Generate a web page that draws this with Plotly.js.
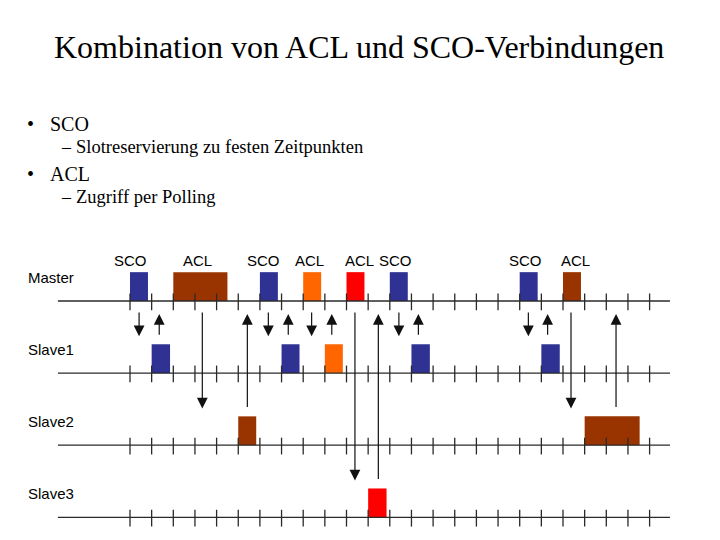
<!DOCTYPE html>
<html>
<head>
<meta charset="utf-8">
<script src="https://cdn.plot.ly/plotly-3.0.1.min.js"></script>
<style>html,body{margin:0;padding:0;background:#fff}#chart{width:720px;height:540px}</style>
</head>
<body>
<div id="chart"></div>
<script>
// ---- data ----
const titleText = 'Kombination von ACL und SCO-Verbindungen';
const bulletLevel = [0, 1, 0, 1];
const bulletText = ['SCO', 'Slotreservierung zu festen Zeitpunkten', 'ACL', 'Zugriff per Polling'];

const rowNames = ['Master', 'Slave1', 'Slave2', 'Slave3'];
const rowIndex = [0, 1, 2, 3];
const tickSlots = [0,1,2,3,4,5,6,7,8,9,10,11,12,13,14,15,16,17,18,19,20,21,22,23,24];
const timelineStart = -3.33;
const timelineEnd = 24.94;

// slots occupied by packets
const blockRow   = [0, 0, 0, 0, 0, 0, 0, 0,   1, 1, 1, 1, 1,   2, 2,   3];
const blockStart = [0, 2, 6, 8, 10, 12, 18, 20,  1, 7, 9, 13, 19,  5, 21,  11];
const blockLen   = [0.83, 2.5, 0.83, 0.83, 0.83, 0.83, 0.83, 0.83,  0.85, 0.83, 0.83, 0.85, 0.85,  0.83, 2.54,  0.85];
const blockLink  = ['SCO','ACL2','SCO','ACL1','ACL3','SCO','SCO','ACL2',
                    'SCO','SCO','ACL1','SCO','SCO',
                    'ACL2','ACL2',
                    'ACL3'];

// labels above master
const labelSlot = [0.0, 3.12, 6.17, 8.31, 10.58, 12.24, 18.29, 20.58];
const labelText = ['SCO', 'ACL', 'SCO', 'ACL', 'ACL', 'SCO', 'SCO', 'ACL'];

// polling arrows: x position (slots), from row, to row
const arrowSlot = [0.42, 1.35, 6.39, 7.31, 8.39, 9.32, 12.42, 13.32, 18.40, 19.29,
                   3.34, 5.42, 10.39, 11.47, 20.37, 22.45];
const arrowFrom = [0, 1, 0, 1, 0, 1, 0, 1, 0, 1,
                   0, 2, 0, 3, 0, 2];
const arrowTo   = [1, 0, 1, 0, 1, 0, 1, 0, 1, 0,
                   2, 0, 3, 0, 2, 0];

// ---- styles ----
const linkColor = {SCO: '#2f3193', ACL1: '#ff6600', ACL2: '#993300', ACL3: '#ff0000'};
const blockH = 0.4;
const lineColor = '#2a2a2a';

const traces = [];
// timelines
const lx = [], ly = [];
rowIndex.forEach(r => { lx.push(timelineStart, timelineEnd, null); ly.push(-r, -r, null); });
traces.push({type: 'scatter', mode: 'lines', x: lx, y: ly, line: {color: lineColor, width: 1.3}, hoverinfo: 'skip'});
// ticks
const tx = [], ty = [];
rowIndex.forEach(r => tickSlots.forEach(s => { tx.push(s); ty.push(-r - 0.012); }));
traces.push({type: 'scatter', mode: 'markers', x: tx, y: ty,
  marker: {symbol: 'line-ns', size: 12, color: lineColor, line: {color: lineColor, width: 1.3}}, hoverinfo: 'skip'});
// packets
traces.push({type: 'bar', x: blockStart.map((s, i) => s + blockLen[i] / 2), width: blockLen,
  base: blockRow.map(r => -r), y: blockRow.map(() => blockH),
  marker: {color: blockLink.map(k => linkColor[k]), line: {width: 0}}, hoverinfo: 'skip'});

const ann = [];
ann.push({xref: 'paper', yref: 'paper', x: 359 / 720, y: 1 - 47 / 540, text: titleText, showarrow: false,
  xanchor: 'center', yanchor: 'middle', font: {family: 'Liberation Serif, Times New Roman, serif', size: 32, color: '#000'}});
const bulletY = [123.5, 147, 173.5, 197];
bulletText.forEach((t, i) => {
  const lvl = bulletLevel[i];
  ann.push({xref: 'paper', yref: 'paper', x: (lvl ? 59 : 25) / 720, y: 1 - bulletY[i] / 540,
    text: lvl ? '–' : '•', showarrow: false, xanchor: 'left', yanchor: 'middle',
    font: {family: 'Liberation Serif, serif', size: lvl ? 18 : 20, color: '#000'}});
  ann.push({xref: 'paper', yref: 'paper', x: (lvl ? 74 : 48) / 720, y: 1 - bulletY[i] / 540,
    text: t, showarrow: false, xanchor: 'left', yanchor: 'middle',
    font: {family: 'Liberation Serif, serif', size: lvl ? 18.5 : 20, color: '#000'}});
});
rowNames.forEach((n, i) => {
  ann.push({xref: 'paper', yref: 'y', x: 26 / 720, y: -rowIndex[i] + 0.326, text: n, showarrow: false,
    xanchor: 'left', yanchor: 'middle', font: {family: 'Liberation Sans, Arial, sans-serif', size: 15, color: '#000'}});
});
labelText.forEach((t, i) => {
  ann.push({xref: 'x', yref: 'y', x: labelSlot[i], y: 0.555, text: t, showarrow: false,
    xanchor: 'center', yanchor: 'middle', font: {family: 'Liberation Sans, Arial, sans-serif', size: 15, color: '#000'}});
});
arrowSlot.forEach((s, i) => {
  const f = arrowFrom[i], t = arrowTo[i];
  let y0, y1;
  if (f === 0) { y0 = -0.139; y1 = -t + blockH + 0.11; }
  else { y0 = -f + blockH + 0.11; y1 = -0.18; }
  ann.push({xref: 'x', yref: 'y', axref: 'x', ayref: 'y', x: s, y: y1, ax: s, ay: y0, text: '',
    showarrow: true, arrowhead: 2, arrowsize: 1.8, arrowwidth: 1.2, arrowcolor: '#111', standoff: 0, startstandoff: 0});
});

const layout = {
  width: 720, height: 540, margin: {l: 0, r: 0, t: 0, b: 0},
  paper_bgcolor: '#fff', plot_bgcolor: '#fff', showlegend: false, barmode: 'overlay',
  xaxis: {range: [-130 / 21.65, 590 / 21.65], visible: false, fixedrange: true},
  yaxis: {range: [-(540 - 301) / 72.1, 301 / 72.1], visible: false, fixedrange: true},
  annotations: ann
};
Plotly.newPlot('chart', traces, layout, {staticPlot: true, displayModeBar: false});
</script>
</body>
</html>
